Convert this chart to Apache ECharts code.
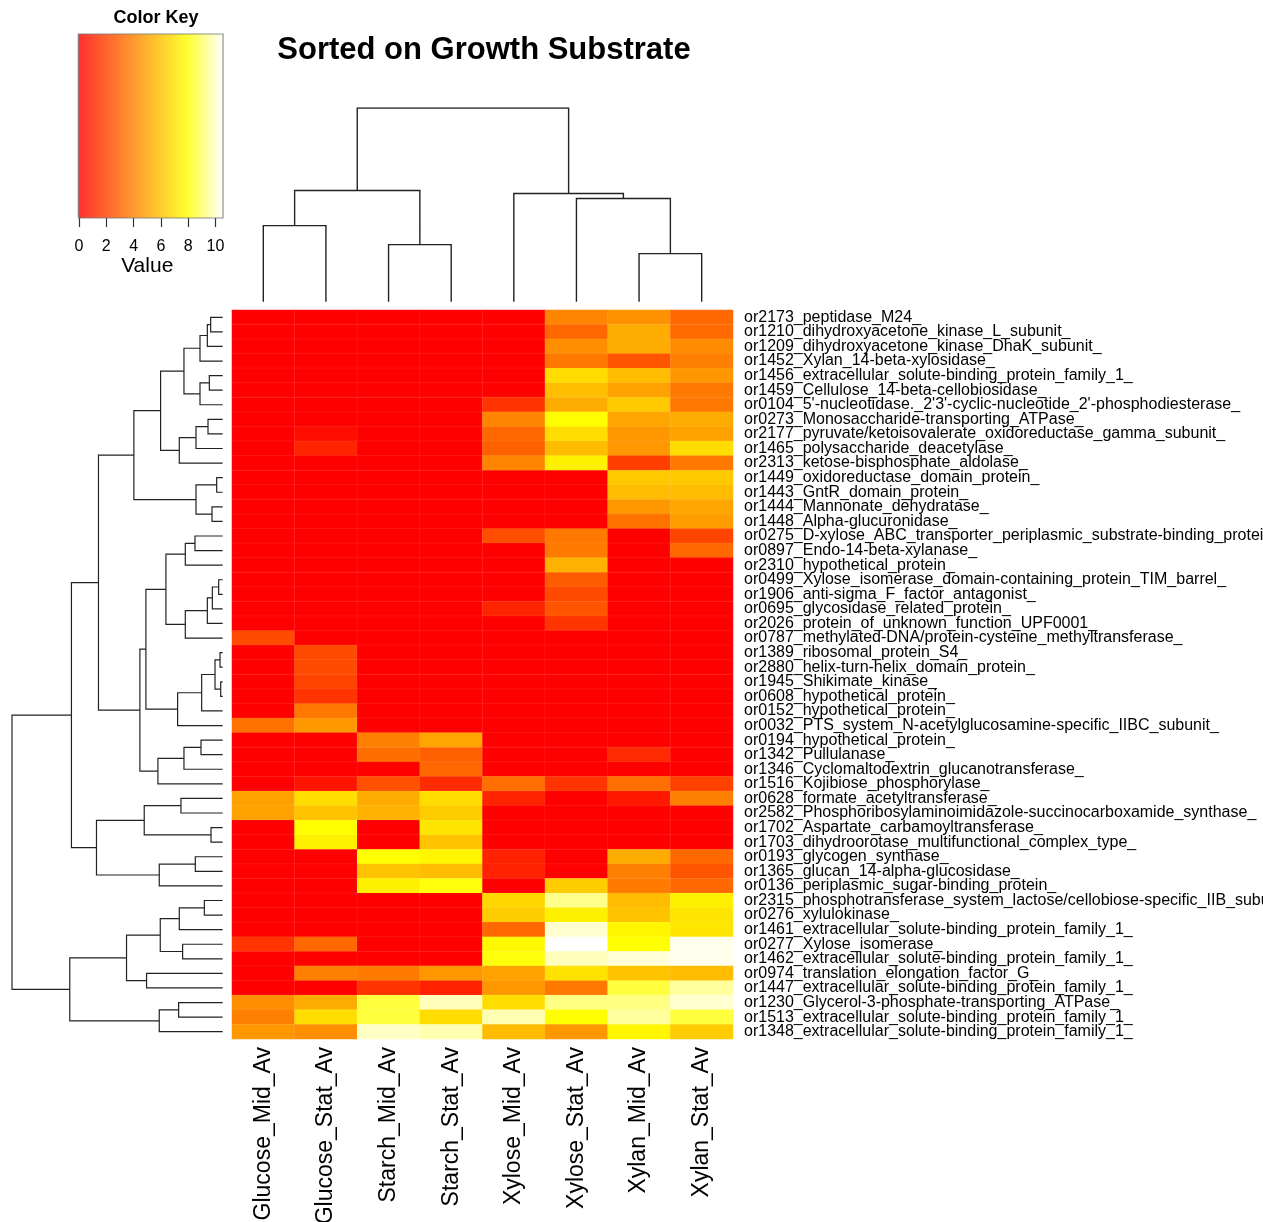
<!DOCTYPE html>
<html>
<head>
<meta charset="utf-8">
<script src="https://cdn.jsdelivr.net/npm/echarts@6/dist/echarts.min.js"></script>
<style>
  html, body { margin: 0; padding: 0; background: #fff; }
  #chart { width: 1263px; height: 1222px; }
</style>
</head>
<body>
<div id="chart"></div>
<script>
// columns, in display order
const samples = ['Glucose_Mid_Av', 'Glucose_Stat_Av', 'Starch_Mid_Av', 'Starch_Stat_Av',
  'Xylose_Mid_Av', 'Xylose_Stat_Av', 'Xylan_Mid_Av', 'Xylan_Stat_Av'];

// rows, top to bottom
const genes = [
  'or2173_peptidase_M24_',
  'or1210_dihydroxyacetone_kinase_L_subunit_',
  'or1209_dihydroxyacetone_kinase_DhaK_subunit_',
  'or1452_Xylan_14-beta-xylosidase_',
  'or1456_extracellular_solute-binding_protein_family_1_',
  'or1459_Cellulose_14-beta-cellobiosidase_',
  "or0104_5'-nucleotidase._2'3'-cyclic-nucleotide_2'-phosphodiesterase_",
  'or0273_Monosaccharide-transporting_ATPase_',
  'or2177_pyruvate/ketoisovalerate_oxidoreductase_gamma_subunit_',
  'or1465_polysaccharide_deacetylase_',
  'or2313_ketose-bisphosphate_aldolase_',
  'or1449_oxidoreductase_domain_protein_',
  'or1443_GntR_domain_protein_',
  'or1444_Mannonate_dehydratase_',
  'or1448_Alpha-glucuronidase_',
  'or0275_D-xylose_ABC_transporter_periplasmic_substrate-binding_protein_',
  'or0897_Endo-14-beta-xylanase_',
  'or2310_hypothetical_protein_',
  'or0499_Xylose_isomerase_domain-containing_protein_TIM_barrel_',
  'or1906_anti-sigma_F_factor_antagonist_',
  'or0695_glycosidase_related_protein_',
  'or2026_protein_of_unknown_function_UPF0001_',
  'or0787_methylated-DNA/protein-cysteine_methyltransferase_',
  'or1389_ribosomal_protein_S4_',
  'or2880_helix-turn-helix_domain_protein_',
  'or1945_Shikimate_kinase_',
  'or0608_hypothetical_protein_',
  'or0152_hypothetical_protein_',
  'or0032_PTS_system_N-acetylglucosamine-specific_IIBC_subunit_',
  'or0194_hypothetical_protein_',
  'or1342_Pullulanase_',
  'or1346_Cyclomaltodextrin_glucanotransferase_',
  'or1516_Kojibiose_phosphorylase_',
  'or0628_formate_acetyltransferase_',
  'or2582_Phosphoribosylaminoimidazole-succinocarboxamide_synthase_',
  'or1702_Aspartate_carbamoyltransferase_',
  'or1703_dihydroorotase_multifunctional_complex_type_',
  'or0193_glycogen_synthase_',
  'or1365_glucan_14-alpha-glucosidase_',
  'or0136_periplasmic_sugar-binding_protein_',
  'or2315_phosphotransferase_system_lactose/cellobiose-specific_IIB_subunit_',
  'or0276_xylulokinase_',
  'or1461_extracellular_solute-binding_protein_family_1_',
  'or0277_Xylose_isomerase_',
  'or1462_extracellular_solute-binding_protein_family_1_',
  'or0974_translation_elongation_factor_G_',
  'or1447_extracellular_solute-binding_protein_family_1_',
  'or1230_Glycerol-3-phosphate-transporting_ATPase_',
  'or1513_extracellular_solute-binding_protein_family_1_',
  'or1348_extracellular_solute-binding_protein_family_1_'
];

// one array per column, 50 values each (rows top to bottom)
const glucoseMid = [
  0, 0, 0, 0, 0, 0, 0, 0, 0, 0,
  0, 0, 0, 0, 0, 0, 0, 0, 0, 0,
  0, 0, 2.3, 0, 0, 0, 0, 0, 3.5, 0,
  0, 0, 0, 5.0, 5.0, 0, 0, 0, 0, 0,
  0, 0, 0, 1.6, 0, 0, 0, 4.4, 3.9, 4.7];
const glucoseStat = [
  0, 0, 0, 0, 0, 0, 0, 0, 0.4, 1.1,
  0, 0, 0, 0, 0, 0, 0, 0, 0, 0,
  0, 0, 0, 2.3, 2.3, 2.1, 1.6, 3.7, 4.7, 0,
  0, 0, 0.6, 6.8, 6.0, 7.9, 7.4, 0, 0, 0,
  0, 0, 0, 3.2, 0, 3.9, 0, 5.3, 6.8, 4.4];
const starchMid = [
  0, 0, 0, 0, 0, 0, 0, 0, 0, 0,
  0, 0, 0, 0, 0, 0, 0, 0, 0, 0,
  0, 0, 0, 0, 0, 0, 0, 0, 0, 3.9,
  3.4, 0, 2.5, 5.3, 5.5, 0, 0, 7.9, 6.0, 7.4,
  0, 0, 0, 0, 0, 3.8, 1.6, 8.5, 8.5, 9.9];
const starchStat = [
  0, 0, 0, 0, 0, 0, 0, 0, 0, 0,
  0, 0, 0, 0, 0, 0, 0, 0, 0, 0,
  0, 0, 0, 0, 0, 0, 0, 0, 0, 5.1,
  3.0, 3.2, 1.3, 6.8, 6.3, 7.1, 6.0, 7.6, 5.8, 8.0,
  0, 0, 0, 0, 0, 4.7, 1.0, 9.8, 6.8, 9.7];
const xyloseMid = [
  0, 0, 0, 0, 0, 0, 1.6, 4.1, 3.2, 3.0,
  4.1, 0, 0, 0, 0, 2.4, 0, 0, 0, 0,
  1.1, 0, 0, 0, 0, 0, 0, 0, 0, 0,
  0, 0, 3.4, 1.1, 0, 0, 0, 1.0, 1.0, 0,
  6.6, 6.3, 3.2, 7.7, 8.0, 5.0, 4.7, 6.8, 9.7, 5.8];
const xyloseStat = [
  4.1, 3.2, 4.4, 3.7, 6.8, 5.9, 5.3, 7.9, 6.8, 5.8,
  7.4, 0, 0, 0, 0, 3.7, 3.8, 5.5, 2.8, 2.3,
  2.6, 1.6, 0, 0, 0, 0, 0, 0, 0, 0,
  0, 0, 1.6, 0, 0, 0, 0, 0, 0, 6.3,
  9.3, 7.4, 10.0, 10.5, 9.8, 7.0, 3.7, 9.2, 7.9, 4.7];
const xylanMid = [
  4.5, 5.3, 5.3, 2.6, 5.8, 5.0, 6.2, 5.1, 4.7, 4.7,
  1.9, 6.2, 5.8, 4.7, 3.5, 0, 0, 0, 0, 0,
  0, 0, 0, 0, 0, 0, 0, 0, 0, 0,
  1.3, 0, 3.4, 0.7, 0, 0, 0, 5.3, 3.9, 3.8,
  5.8, 6.0, 7.6, 7.9, 10.1, 6.0, 8.5, 9.2, 9.5, 7.6];
const xylanStat = [
  3.2, 3.3, 4.3, 3.9, 4.7, 3.7, 3.7, 5.3, 5.0, 6.8,
  3.7, 6.2, 5.8, 5.1, 4.8, 2.1, 3.2, 0, 0, 0,
  0, 0, 0, 0, 0, 0, 0, 0, 0, 0,
  0, 0, 2.0, 3.9, 0, 0, 0, 3.2, 2.6, 3.2,
  7.4, 7.1, 7.1, 10.3, 10.3, 5.8, 9.5, 10.0, 8.5, 6.3];
const columns = [glucoseMid, glucoseStat, starchMid, starchStat, xyloseMid, xyloseStat, xylanMid, xylanStat];

// dendrograms, hclust style: negative = leaf (display position), positive = earlier merge
const colMerge = [[-1, -2], [-3, -4], [1, 2], [-7, -8], [-6, 4], [-5, 5], [3, 6]];
const colHeight = [7.6, 5.7, 11.1, 4.8, 10.3, 10.8, 19.34];

const rowMerge = [
  [-1, -2], [1, -3], [2, -4], [-5, -6], [4, -7], [3, 5], [-8, -9], [7, -10], [8, -11], [6, 9],
  [-12, -13], [-14, -15], [11, 12], [10, 13], [-16, -17], [15, -18], [-19, -20], [17, -21], [18, -22], [19, -23],
  [16, 20], [-24, -25], [-26, -27], [22, 23], [24, -28], [25, -29], [21, 26], [-30, -31], [28, -32], [29, -33],
  [27, 30], [14, 31], [-34, -35], [-36, -37], [33, 34], [-38, -39], [36, -40], [35, 37], [32, 38], [-41, -42],
  [40, -43], [-44, -45], [41, 42], [-46, -47], [43, 44], [-48, -49], [46, -50], [45, 47], [39, 48]];
const rowHeight = [
  3.6, 4.6, 6.8, 4.0, 6.8, 11.6, 4.4, 8.0, 13.0, 18.6,
  1.8, 3.2, 8.0, 26.6, 8.3, 11.2, 1.2, 3.1, 4.6, 11.2,
  17.0, 0.8, 0.6, 2.3, 6.3, 13.5, 23.0, 6.5, 11.6, 19.4,
  24.8, 37.2, 12.5, 3.5, 23.5, 8.2, 19.0, 37.8, 45.3, 5.5,
  13.0, 12.0, 18.7, 22.8, 28.8, 13.2, 19.0, 45.8, 63.1];

// colour key
const keyTicks = [0, 2, 4, 6, 8, 10];
const keyLow = -0.05, keyHigh = 10.55;
const heatColors = ['#ff0000', '#ff2b00', '#ff5500', '#ff8000', '#ffaa00', '#ffd500', '#ffff00', '#ffff80', '#ffffff'];

const FONT = 'Liberation Sans, Arial, Helvetica, sans-serif';

// turn merges into polylines: [position along leaves, height]
function dendro(merge, height, flip) {
  const nodes = [];
  const get = k => (k < 0 ? { p: -k - 0.5, h: 0 } : nodes[k - 1]);
  return merge.map(([a, b], i) => {
    const A = get(a), B = get(b), h = height[i];
    nodes.push({ p: (A.p + B.p) / 2, h });
    const pts = [[A.p, A.h], [A.p, h], [B.p, h], [B.p, B.h]];
    return { coords: pts.map(([p, v]) => (flip ? [v, p] : [p, v])) };
  });
}

const heatData = [];
columns.forEach((col, c) => col.forEach((v, r) => heatData.push([c, r, v])));

const chart = echarts.init(document.getElementById('chart'));

const hidden = { show: false };
const fixedGrid = { outerBoundsMode: 'none', containLabel: false };
const option = {
  animation: false,
  backgroundColor: '#fff',
  textStyle: { fontFamily: FONT },
  title: [
    {
      text: 'Sorted on Growth Substrate', left: 479, top: 30, textAlign: 'center',
      textStyle: { fontSize: 31, fontWeight: 'bold', color: '#000', fontFamily: FONT }
    },
    {
      text: 'Color Key', left: 151, top: 4, textAlign: 'center',
      textStyle: { fontSize: 18, fontWeight: 'bold', color: '#000', fontFamily: FONT }
    }
  ],
  grid: [
    { left: 232, top: 310, width: 501, height: 729, ...fixedGrid },
    { left: 232, top: 108, width: 501, height: 193.7, ...fixedGrid },
    { left: 12, top: 310, width: 210.7, height: 729, ...fixedGrid },
    { left: 79, top: 34, width: 136.5, height: 184, ...fixedGrid }
  ],
  xAxis: [
    {
      gridIndex: 0, type: 'category', data: samples, position: 'bottom',
      axisLine: hidden, axisTick: hidden, splitLine: hidden,
      axisLabel: { rotate: 90, margin: 8, fontSize: 23, color: '#000', fontFamily: FONT }
    },
    { gridIndex: 1, type: 'value', min: 0, max: 8, show: false },
    { gridIndex: 2, type: 'value', min: 0, max: 63.1, inverse: true, show: false },
    {
      gridIndex: 3, type: 'value', min: 0, max: 10, interval: 2, position: 'bottom',
      axisLine: { show: false },
      axisTick: { show: true, length: 9, lineStyle: { color: '#333', width: 1.2 } },
      splitLine: hidden,
      axisLabel: { margin: 21, fontSize: 16, color: '#000', fontFamily: FONT },
      name: 'Value', nameLocation: 'middle', nameGap: 36,
      nameTextStyle: { fontSize: 21, color: '#000', fontFamily: FONT }
    }
  ],
  yAxis: [
    {
      gridIndex: 0, type: 'category', data: genes, inverse: true, position: 'right',
      axisLine: hidden, axisTick: hidden, splitLine: hidden,
      axisLabel: { margin: 11, fontSize: 16, color: '#000', fontFamily: FONT, interval: 0 }
    },
    { gridIndex: 1, type: 'value', min: 0, max: 19.34, show: false },
    { gridIndex: 2, type: 'value', min: 0, max: 50, inverse: true, show: false },
    { gridIndex: 3, type: 'value', min: 0, max: 1, show: false }
  ],
  visualMap: {
    show: false, type: 'continuous', min: 0, max: 10.5, seriesIndex: 0,
    inRange: { color: heatColors }
  },
  series: [
    {
      type: 'heatmap', xAxisIndex: 0, yAxisIndex: 0, data: heatData, progressive: 0,
      itemStyle: { borderColor: 'rgba(255,255,255,0.12)', borderWidth: 0.6 }
    },
    {
      type: 'lines', coordinateSystem: 'cartesian2d', xAxisIndex: 1, yAxisIndex: 1,
      polyline: true, data: dendro(colMerge, colHeight, false),
      lineStyle: { color: '#222', width: 1.4, opacity: 1 }
    },
    {
      type: 'lines', coordinateSystem: 'cartesian2d', xAxisIndex: 2, yAxisIndex: 2,
      polyline: true, data: dendro(rowMerge, rowHeight, true),
      lineStyle: { color: '#222', width: 1.2, opacity: 1 }
    },
    {
      type: 'custom', xAxisIndex: 3, yAxisIndex: 3, data: [[0, 0]], clip: false,
      renderItem(params, api) {
        const p0 = api.coord([keyLow, 0]);
        const p1 = api.coord([keyHigh, 1]);
        return {
          type: 'rect',
          shape: { x: p0[0], y: p1[1], width: p1[0] - p0[0], height: p0[1] - p1[1] },
          style: {
            fill: new echarts.graphic.LinearGradient(0, 0, 1, 0,
              heatColors.map((c, i) => ({ offset: i / (heatColors.length - 1), color: c }))),
            opacity: 0.82,
            stroke: '#777', lineWidth: 1.2
          }
        };
      }
    }
  ]
};

chart.setOption(option);
</script>
</body>
</html>
